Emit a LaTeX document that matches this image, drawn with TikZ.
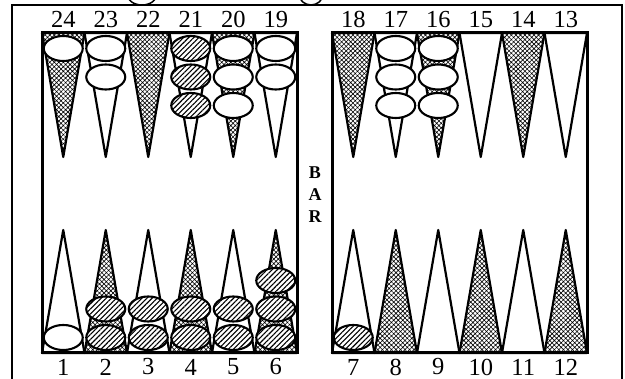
\documentclass[tikz,border=0pt]{standalone}
\usepackage{fontspec}
\setmainfont{Liberation Serif}
\usetikzlibrary{patterns.meta}

\begin{document}
\begin{tikzpicture}[x=1pt,y=-1pt,
 frame/.style={draw,line width=2pt},
 board/.style={draw,line width=3pt},
 pwhite/.style={draw,line width=2.2pt,line join=round,fill=white},
 pshade/.style={draw,line width=2.2pt,line join=round,pattern={Hatch[angle=45,distance=3.2pt,line width=0.6pt]}},
 cwhite/.style={draw,line width=2.1pt,fill=white},
 cdark/.style={draw,line width=2.1pt,preaction={fill=white},pattern={Lines[angle=45,distance=3.6pt,line width=1.1pt]}},
 num/.style={font=\fontsize{24.5}{24.5}\selectfont,inner sep=0pt},
 barl/.style={font=\bfseries\fontsize{18}{18}\selectfont,inner sep=0pt}]
\useasboundingbox (0,0) rectangle (625,379);
\clip (0,0) rectangle (625,379);
% outer frame and bits above it
\draw[frame] (12,5) rectangle (622,395);
\draw[line width=1.5pt] (142,-6) ellipse [x radius=15,y radius=11];
\draw[line width=1.5pt] (311,-6) ellipse [x radius=12,y radius=11];
% points, top half
\foreach \i/\ts in {0/pshade,1/pwhite,2/pshade,3/pwhite,4/pshade,5/pwhite}{
  \draw[\ts] ({42+42.5*\i},33) -- ({63.25+42.5*\i},157) -- ({84.5+42.5*\i},33) -- cycle;
  \draw[\ts] ({332+42.5*\i},33) -- ({353.25+42.5*\i},157) -- ({374.5+42.5*\i},33) -- cycle;
}
% points, bottom half
\foreach \i/\ts in {0/pwhite,1/pshade,2/pwhite,3/pshade,4/pwhite,5/pshade}{
  \draw[\ts] ({42+42.5*\i},353) -- ({63.25+42.5*\i},230) -- ({84.5+42.5*\i},353) -- cycle;
  \draw[\ts] ({332+42.5*\i},353) -- ({353.25+42.5*\i},230) -- ({374.5+42.5*\i},353) -- cycle;
}
% checkers on top points
\foreach \x/\k/\cs in {63.25/0/cwhite,105.75/0/cwhite,105.75/1/cwhite,
  190.75/0/cdark,190.75/1/cdark,190.75/2/cdark,
  233.25/0/cwhite,233.25/1/cwhite,233.25/2/cwhite,
  275.75/0/cwhite,275.75/1/cwhite,
  395.75/0/cwhite,395.75/1/cwhite,395.75/2/cwhite,
  438.25/0/cwhite,438.25/1/cwhite,438.25/2/cwhite}
  \draw[\cs] (\x,{48.5+28.5*\k}) ellipse [x radius=19.5,y radius=12.5];
% checkers on bottom points
\foreach \x/\k/\cs in {63.25/0/cwhite,105.75/0/cdark,105.75/1/cdark,
  148.25/0/cdark,148.25/1/cdark,190.75/0/cdark,190.75/1/cdark,
  233.25/0/cdark,233.25/1/cdark,
  275.75/0/cdark,275.75/1/cdark,275.75/2/cdark,
  353.25/0/cdark}
  \draw[\cs] (\x,{337.5-28.5*\k}) ellipse [x radius=19.5,y radius=12.5];
% the two boards
\draw[board] (42,33) rectangle (297,353);
\draw[board] (332,33) rectangle (587,353);
% numbers
\foreach \n [count=\i from 0] in {24,23,22,21,20,19}
  \node[num] (t\n) at ({63.25+42.5*\i},19.5) {\n};
\foreach \n [count=\i from 0] in {18,17,16,15,14,13}
  \node[num] (t\n) at ({353.25+42.5*\i},19.5) {\n};
\foreach \n [count=\i from 0] in {1,2,3,4,5,6}
  \node[num] (b\n) at ({63.25+42.5*\i},367) {\n};
\foreach \n [count=\i from 0] in {7,8,9,10,11,12}
  \node[num] (b\n) at ({353.25+42.5*\i},367) {\n};
% bar
\node[barl] (barb) at (315,173) {B};
\node[barl] (bara) at (315,195) {A};
\node[barl] (barr) at (315,217) {R};
\end{tikzpicture}
\end{document}
